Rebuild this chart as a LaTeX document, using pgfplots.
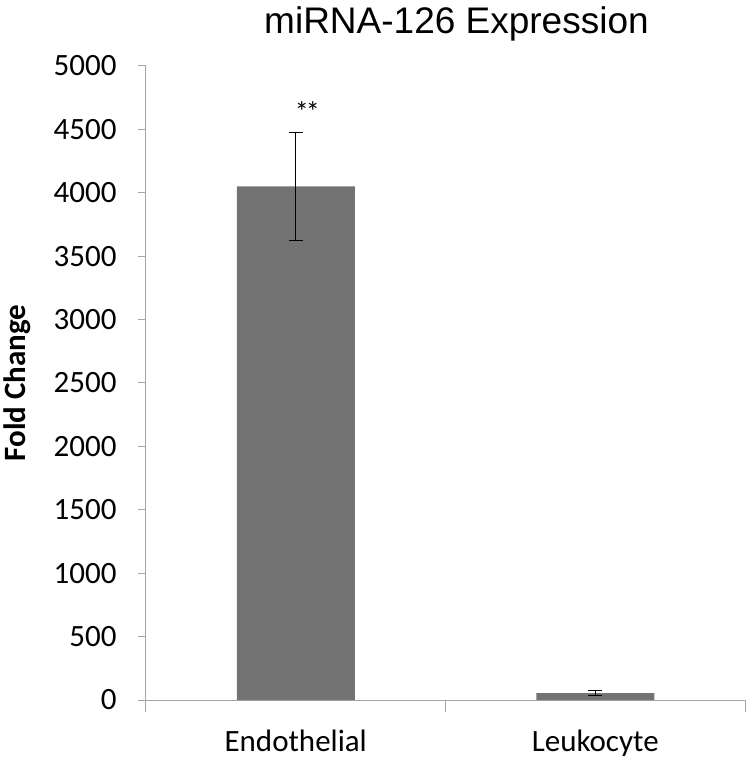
\documentclass[border=0pt]{standalone}
\usepackage{fontspec}
\setmainfont{Carlito}
\newfontfamily\arial{Liberation Sans}
\usepackage{pgfplots}
\pgfplotsset{compat=1.18}
\definecolor{bargray}{HTML}{737373}
\definecolor{axgray}{HTML}{A6A6A6}

\begin{document}
\begin{tikzpicture}
\begin{axis}[
  name=ax,
  scale only axis,
  width=599pt,
  height=634pt,
  xmin=-0.5, xmax=1.5,
  ymin=0, ymax=5000,
  axis x line*=bottom,
  axis y line*=left,
  axis line style={axgray, line width=1pt, -},
  ytick={0,500,...,5000},
  xtick={0,1},
  xticklabels={Endothelial, Leukocyte},
  minor xtick={-0.5,0.5,1.5},
  tick align=outside,
  major tick length=8pt,
  minor tick length=12pt,
  x tick style={draw=none},
  minor x tick style={draw=axgray, line width=1pt},
  y tick style={axgray, line width=1pt},
  scaled y ticks=false,
  /pgf/number format/1000 sep={},
  /pgf/number format/assume math mode=true,
  ticklabel style={font=\fontsize{31}{36}\selectfont},
  yticklabel style={xshift=-18pt},
  xticklabel style={yshift=-18pt},
  ylabel={Fold Change},
  every axis y label/.style={at={(rel axis cs:0,0.5)}, rotate=90, anchor=center,
    yshift=129pt, font=\bfseries\fontsize{31}{36}\selectfont},
  clip=false,
]
\addplot[
  ybar, bar width=118pt, fill=bargray, draw=none,
  error bars/.cd, y dir=both, y explicit,
  error bar style={black, line width=0.9pt},
  error mark options={rotate=90, mark size=7pt, black, line width=0.9pt},
] coordinates {
  (0,4050) +- (0,425)
  (1,55) +- (0,20)
};
\node[font=\fontsize{28}{30}\selectfont, anchor=base west, inner sep=0pt, xshift=-1pt] at (axis cs:0,4560) {*\kern-3pt*};
\end{axis}
\node[font=\arial\fontsize{37}{42}\selectfont, anchor=base] at ([xshift=11pt, yshift=32pt]ax.north) {miRNA-126 Expression};
\pgfresetboundingbox
\path ([xshift=-146pt,yshift=-61pt]ax.south west) rectangle ([xshift=2pt,yshift=66pt]ax.north east);
\end{tikzpicture}
\end{document}
